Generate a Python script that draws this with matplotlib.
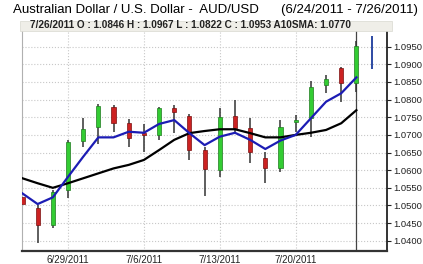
import numpy as np
import matplotlib
matplotlib.use("Agg")
import matplotlib.pyplot as plt
from matplotlib.patches import Rectangle

plt.rcParams['font.family'] = ['Liberation Sans', 'DejaVu Sans']

# trading days 6/24/2011 .. 7/26/2011
dates = ['6/24', '6/27', '6/28', '6/29', '6/30', '7/1', '7/4', '7/5', '7/6', '7/7', '7/8',
         '7/11', '7/12', '7/13', '7/14', '7/15', '7/18', '7/19', '7/20', '7/21', '7/22',
         '7/25', '7/26']
opens = [1.0525, 1.0492, 1.0445, 1.0544, 1.0684, 1.0722, 1.0778, 1.0733, 1.0705, 1.0700, 1.0776,
         1.0754, 1.0657, 1.0600, 1.0754, 1.0719, 1.0634, 1.0605, 1.0736, 1.0747, 1.0841,
         1.0890, 1.0846]
highs = [1.0560, 1.0500, 1.0545, 1.0686, 1.0747, 1.0788, 1.0785, 1.0744, 1.0731, 1.0778, 1.0785,
         1.0760, 1.0665, 1.0775, 1.0799, 1.0747, 1.0652, 1.0742, 1.0756, 1.0853, 1.0870,
         1.0892, 1.0967]
lows = [1.0493, 1.0393, 1.0435, 1.0520, 1.0667, 1.0673, 1.0709, 1.0665, 1.0652, 1.0686, 1.0705,
        1.0629, 1.0527, 1.0580, 1.0705, 1.0620, 1.0563, 1.0596, 1.0709, 1.0695, 1.0820,
        1.0794, 1.0822]
closes = [1.0503, 1.0445, 1.0539, 1.0681, 1.0716, 1.0782, 1.0735, 1.0690, 1.0700, 1.0775, 1.0765,
          1.0657, 1.0602, 1.0752, 1.0719, 1.0652, 1.0605, 1.0723, 1.0742, 1.0835, 1.0858,
          1.0848, 1.0953]
sma10 = [1.0577, 1.0563, 1.0550, 1.0563, 1.0577, 1.0591, 1.0605, 1.0615, 1.0629, 1.0657, 1.0686,
         1.0705, 1.0711, 1.0716, 1.0716, 1.0705, 1.0693, 1.0693, 1.0700, 1.0706, 1.0714,
         1.0733, 1.0770]
fast_line = [1.0534, 1.0504, 1.0523, 1.0581, 1.0638, 1.0693, 1.0693, 1.0709, 1.0706, 1.0731, 1.0742,
             1.0705, 1.0671, 1.0695, 1.0706, 1.0686, 1.0660, 1.0684, 1.0700, 1.0747, 1.0794,
             1.0818, 1.0863]
next_marker = [1.0887, 1.0981]  # blue marker on the day after the last bar

tick_idx = [3, 8, 13, 18]
tick_labels = ['6/29/2011', '7/6/2011', '7/13/2011', '7/20/2011']
y_ticks = np.arange(1.0400, 1.09501, 0.005)

fig = plt.figure(figsize=(4.23, 2.64), dpi=100)
ax = fig.add_axes([0.0513, 0.0504, 0.8630, 0.8322])

x = np.arange(len(dates))
w = 0.27
for i in x:
    up = closes[i] >= opens[i]
    col = '#33cc33' if up else '#cc2222'
    edge = '#1f7a1f' if up else '#7a1010'
    ax.vlines(i, lows[i], highs[i], color='#333333', lw=1.1, zorder=2)
    lo, hi = min(opens[i], closes[i]), max(opens[i], closes[i])
    ax.add_patch(Rectangle((i - w / 2, lo), w, max(hi - lo, 0.0002), facecolor=col,
                           edgecolor=edge, lw=0.5, zorder=3))

ax.plot(x, sma10, color='black', lw=1.6, zorder=4)
ax.plot(x, fast_line, color='#1c1cb4', lw=1.6, zorder=5)
ax.vlines(len(dates), next_marker[0], next_marker[1], color='#1c3c9c', lw=1.3, zorder=5)
ax.axvline(len(dates) - 1, color='#444444', lw=0.9, zorder=1)

ax.set_xlim(-0.05, 24.0)
ax.set_ylim(1.03718, 1.09945)
ax.set_yticks(y_ticks)
ax.set_yticklabels(['%.4f' % v for v in y_ticks])
ax.yaxis.tick_right()
ax.set_xticks(tick_idx)
ax.set_xticklabels(tick_labels)
ax.tick_params(axis='y', labelsize=6.8, length=3, pad=2, colors='#222222')
ax.tick_params(axis='x', labelsize=7.0, length=0, pad=3, colors='#222222')
ax.grid(True, color='#c8c8c8', ls=':', lw=0.8)
ax.set_axisbelow(True)

ax.spines['top'].set_visible(False)
ax.spines['left'].set_color('#b0b0b0')
ax.spines['left'].set_linewidth(0.8)
ax.spines['bottom'].set_color('#333333')
ax.spines['bottom'].set_linewidth(1.6)
ax.spines['right'].set_color('#111111')
ax.spines['right'].set_linewidth(1.2)

fig.text(13 / 423, 1 - 10 / 264, 'Australian Dollar / U.S. Dollar -  AUD/USD',
         fontsize=9.5, va='center', ha='left')
fig.text(418 / 423, 1 - 10 / 264, '(6/24/2011 - 7/26/2011)',
         fontsize=9.5, va='center', ha='right')

fig.patches.append(Rectangle((20 / 423, 1 - 31 / 264), 372 / 423, 10 / 264,
                             transform=fig.transFigure, facecolor='#efeee8',
                             edgecolor='#d8d8d0', lw=0.5))
fig.text(30 / 423, 1 - 25.5 / 264,
         '7/26/2011 O : 1.0846 H : 1.0967 L : 1.0822 C : 1.0953 A10SMA: 1.0770',
         fontsize=7.2, fontweight='bold', va='center', ha='left', color='#222222')

fig.savefig('out.png', dpi=100)
